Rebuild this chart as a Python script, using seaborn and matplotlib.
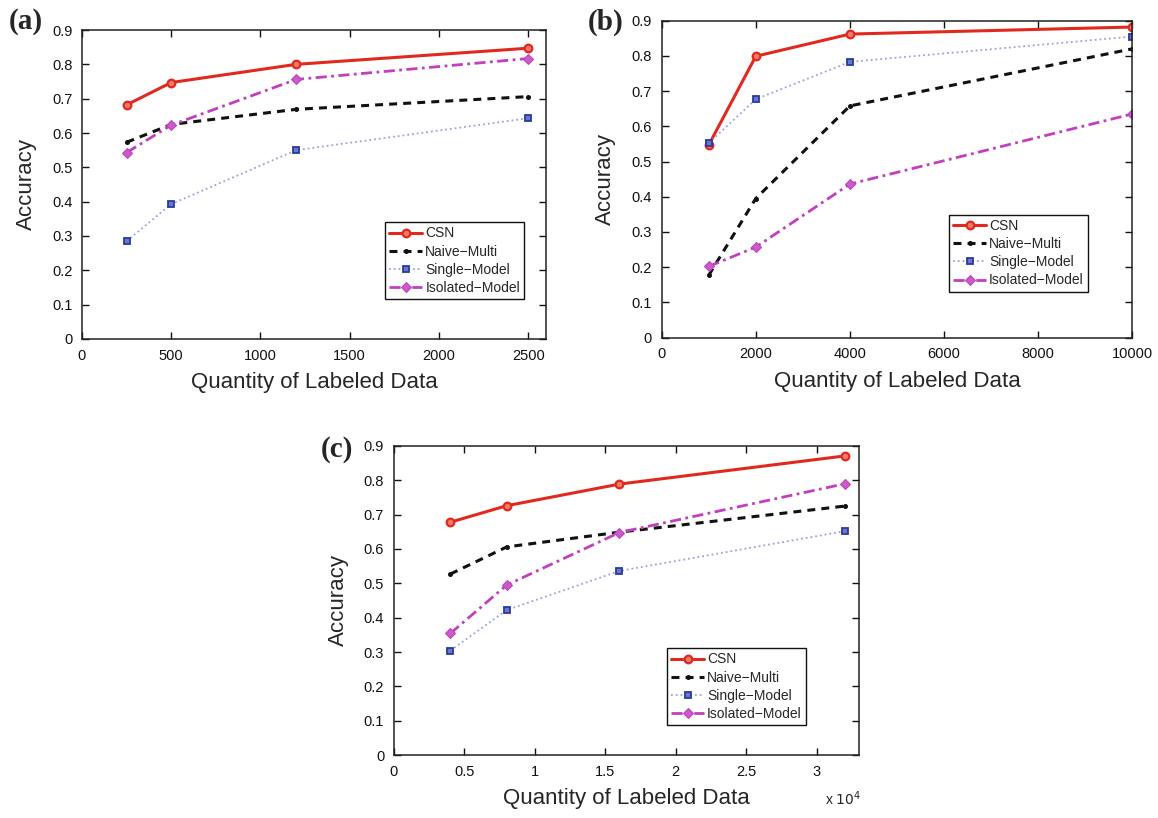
import matplotlib
matplotlib.use("Agg")
import matplotlib.pyplot as plt
import seaborn as sns
from matplotlib.ticker import FuncFormatter, MultipleLocator

# ---------------- data ----------------
series_names = ["CSN", "Naive\u2212Multi", "Single\u2212Model", "Isolated\u2212Model"]

x_a = [250, 500, 1200, 2500]
csn_a = [0.682, 0.747, 0.800, 0.847]
naive_a = [0.573, 0.625, 0.669, 0.706]
single_a = [0.285, 0.393, 0.550, 0.643]
isolated_a = [0.543, 0.623, 0.756, 0.817]

x_b = [1000, 2000, 4000, 10000]
csn_b = [0.547, 0.799, 0.862, 0.882]
naive_b = [0.177, 0.395, 0.658, 0.820]
single_b = [0.552, 0.677, 0.783, 0.855]
isolated_b = [0.202, 0.257, 0.436, 0.635]

x_c = [4000, 8000, 16000, 32000]
csn_c = [0.678, 0.726, 0.789, 0.871]
naive_c = [0.527, 0.606, 0.649, 0.725]
single_c = [0.304, 0.422, 0.536, 0.652]
isolated_c = [0.354, 0.495, 0.648, 0.790]

# ---------------- style ----------------
sns.set_style("ticks")
plt.rcParams["font.family"] = ["Liberation Sans", "DejaVu Sans"]
plt.rcParams["axes.linewidth"] = 1.1
plt.rcParams["axes.edgecolor"] = "#222222"

styles = [
    dict(color="#e2291f", linestyle="-", linewidth=2.2, marker="o", markersize=5.5,
         markerfacecolor="#f07a6a", markeredgecolor="#e2291f", markeredgewidth=1.6),
    dict(color="#111111", linestyle=(0, (2.6, 2.0)), linewidth=2.2, marker="o", markersize=2.8,
         markerfacecolor="#111111", markeredgecolor="#111111"),
    dict(color="#a0a0dc", linestyle=":", linewidth=1.3, marker="s", markersize=4.6,
         markerfacecolor="#6a78c8", markeredgecolor="#2a3a9e", markeredgewidth=1.3),
    dict(color="#c23fc0", linestyle=(0, (4, 1.6, 1, 1.6)), linewidth=2.0, marker="D", markersize=5.2,
         markerfacecolor="#c85cc8", markeredgecolor="#c23fc0"),
]

fig = plt.figure(figsize=(11.58, 8.18), dpi=100)

ax_a = fig.add_axes([0.0708, 0.5856, 0.4007, 0.3777])
ax_b = fig.add_axes([0.5714, 0.5873, 0.4063, 0.3874])
ax_c = fig.add_axes([0.3402, 0.0770, 0.4016, 0.3778])

panels = [
    (ax_a, x_a, [csn_a, naive_a, single_a, isolated_a], (0, 2600), 500, "(a)", (0.953, 0.129), 1.026),
    (ax_b, x_b, [csn_b, naive_b, single_b, isolated_b], (0, 10000), 2000, "(b)", (0.906, 0.145), 0.994),
    (ax_c, x_c, [csn_c, naive_c, single_c, isolated_c], (0, 33000), 5000, "(c)", (0.886, 0.097), 0.990),
]

def yfmt(v, pos):
    return "0" if abs(v) < 1e-9 else f"{v:.1f}"

for ax, xs, ys_list, xlim, xstep, label, legpos, laby in panels:
    for name, ys, st in zip(series_names, ys_list, styles):
        sns.lineplot(x=xs, y=ys, ax=ax, label=name, **st)
    ax.set_xlim(*xlim)
    ax.set_ylim(0, 0.9)
    ax.xaxis.set_major_locator(MultipleLocator(xstep))
    ax.yaxis.set_major_locator(MultipleLocator(0.1))
    ax.yaxis.set_major_formatter(FuncFormatter(yfmt))
    if ax is ax_c:
        ax.xaxis.set_major_formatter(FuncFormatter(lambda v, p: "0" if v == 0 else f"{v/1e4:g}"))
    ax.tick_params(direction="in", length=5, width=1, top=True, right=True,
                   labelsize=10.5, colors="#111111", pad=7)
    for sp in ax.spines.values():
        sp.set_visible(True)
    ax.set_xlabel("Quantity of Labeled Data", fontsize=16, labelpad=7)
    ax.set_ylabel("Accuracy", fontsize=16, labelpad=11)
    leg = ax.legend(loc="lower right", bbox_to_anchor=legpos, fontsize=10,
                    frameon=True, fancybox=False, handlelength=2.4,
                    handletextpad=0.2, borderpad=0.3, labelspacing=0.3,
                    borderaxespad=0)
    leg.get_frame().set_edgecolor("#111111")
    leg.get_frame().set_linewidth(1.0)
    leg.get_frame().set_alpha(1)
    ax.text(-0.158, laby, label, transform=ax.transAxes, fontsize=21, fontweight="bold",
            family=["Liberation Serif", "DejaVu Serif"], ha="left", va="center")

ax_c.text(1.005, -0.14, r"x $10^{4}$", transform=ax_c.transAxes, fontsize=10,
          ha="right", va="center")

fig.savefig("out.png", dpi=100)
